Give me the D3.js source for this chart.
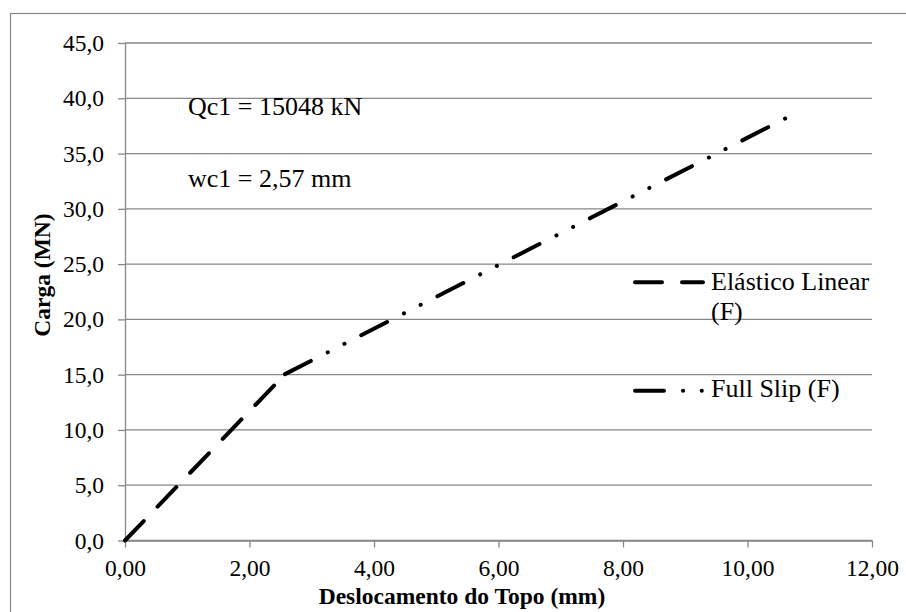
<!DOCTYPE html>
<html>
<head>
<meta charset="utf-8">
<script src="https://cdn.jsdelivr.net/npm/d3@7"></script>
<style>
  html, body { margin: 0; padding: 0; background: #fff; }
  svg { display: block; font-family: "Liberation Serif", "Times New Roman", serif; }
</style>
</head>
<body>
<svg id="chart" width="906" height="612"></svg>
<script>
// Load–displacement curves
const seriesNames = ["Elástico Linear (F)", "Full Slip (F)"];
const elasticoX = [0, 2.57];
const elasticoY = [0, 15.048];
const fullSlipX = [2.57, 10.65];
const fullSlipY = [15.048, 38.3];

const xTicks = [0, 2, 4, 6, 8, 10, 12];
const yTicks = [0, 5, 10, 15, 20, 25, 30, 35, 40, 45];

const xTitle = "Deslocamento do Topo (mm)";
const yTitle = "Carga (MN)";
const notes = ["Qc1 = 15048 kN", "wc1 = 2,57 mm"];

const svg = d3.select("#chart");
const W = 906, H = 612;
const plot = { left: 125, right: 872, top: 43, bottom: 540.5 };

const x = d3.scaleLinear().domain([0, 12]).range([plot.left, plot.right]);
const y = d3.scaleLinear().domain([0, 45]).range([plot.bottom, plot.top]);

const gridColor = "#878787";
const commaFmt = (d, p) => d3.format("." + p + "f")(d).replace(".", ",");

// chart area frame
svg.append("rect")
  .attr("x", 10.5).attr("y", 13.5)
  .attr("width", W + 20).attr("height", H + 20)
  .attr("fill", "#fff").attr("stroke", gridColor).attr("stroke-width", 1.2);

// horizontal gridlines
svg.append("g").selectAll("line").data(yTicks).join("line")
  .attr("x1", plot.left).attr("x2", plot.right)
  .attr("y1", d => y(d)).attr("y2", d => y(d))
  .attr("stroke", gridColor).attr("stroke-width", 1.3);

// y axis
const yAxis = svg.append("g")
  .attr("transform", `translate(${plot.left},0)`)
  .call(d3.axisLeft(y).tickValues(yTicks).tickSize(7).tickSizeOuter(0)
    .tickPadding(14).tickFormat(d => commaFmt(d, 1)));

// x axis
const xAxis = svg.append("g")
  .attr("transform", `translate(0,${plot.bottom})`)
  .call(d3.axisBottom(x).tickValues(xTicks).tickSize(7).tickSizeOuter(0)
    .tickPadding(12).tickFormat(d => commaFmt(d, 2)));

[yAxis, xAxis].forEach(g => {
  g.select(".domain").attr("stroke", gridColor).attr("stroke-width", 1.3);
  g.selectAll(".tick line").attr("stroke", gridColor).attr("stroke-width", 1.3);
  g.selectAll(".tick text")
    .attr("fill", "#000")
    .style("font-family", "'Liberation Serif', 'Times New Roman', serif")
    .style("font-size", "23.5px");
});

// axis titles
svg.append("text")
  .attr("x", 462).attr("y", 604)
  .attr("text-anchor", "middle")
  .style("font-weight", "bold").style("font-size", "23.5px")
  .text(xTitle);

svg.append("text")
  .attr("transform", "translate(50,275) rotate(-90)")
  .attr("text-anchor", "middle")
  .style("font-weight", "bold").style("font-size", "23.5px")
  .text(yTitle);

// series
const line = d3.line().x(d => x(d[0])).y(d => y(d[1]));
const dashElastico = "27 20";
const dashFullSlip = "29 19 0.1 18.6 0.1 18.8";

const series = [
  { name: seriesNames[0], pts: d3.zip(elasticoX, elasticoY), dash: dashElastico },
  { name: seriesNames[1], pts: d3.zip(fullSlipX, fullSlipY), dash: dashFullSlip }
];

svg.append("g").selectAll("path").data(series).join("path")
  .attr("d", d => line(d.pts))
  .attr("fill", "none")
  .attr("stroke", "#000")
  .attr("stroke-width", 4)
  .attr("stroke-linecap", "round")
  .attr("stroke-dasharray", d => d.dash);

// annotations
svg.append("g").selectAll("text").data(notes).join("text")
  .attr("x", 188)
  .attr("y", (d, i) => [115, 187][i])
  .style("font-size", "26px")
  .text(d => d);

// legend
const legendRows = [
  { lines: ["Elástico Linear", "(F)"], dash: dashElastico, ly: 282.3, ty: 290 },
  { lines: ["Full Slip (F)"], dash: dashFullSlip, ly: 390.7, ty: 397 }
];
const lg = svg.append("g");
legendRows.forEach(r => {
  lg.append("line")
    .attr("x1", 635).attr("x2", 703)
    .attr("y1", r.ly).attr("y2", r.ly)
    .attr("stroke", "#000").attr("stroke-width", 4)
    .attr("stroke-linecap", "round")
    .attr("stroke-dasharray", r.dash);
  const t = lg.append("text").attr("x", 711).attr("y", r.ty).style("font-size", "26px");
  r.lines.forEach((s, i) => {
    t.append("tspan").attr("x", 711).attr("dy", i === 0 ? 0 : 30).text(s);
  });
});
</script>
</body>
</html>
